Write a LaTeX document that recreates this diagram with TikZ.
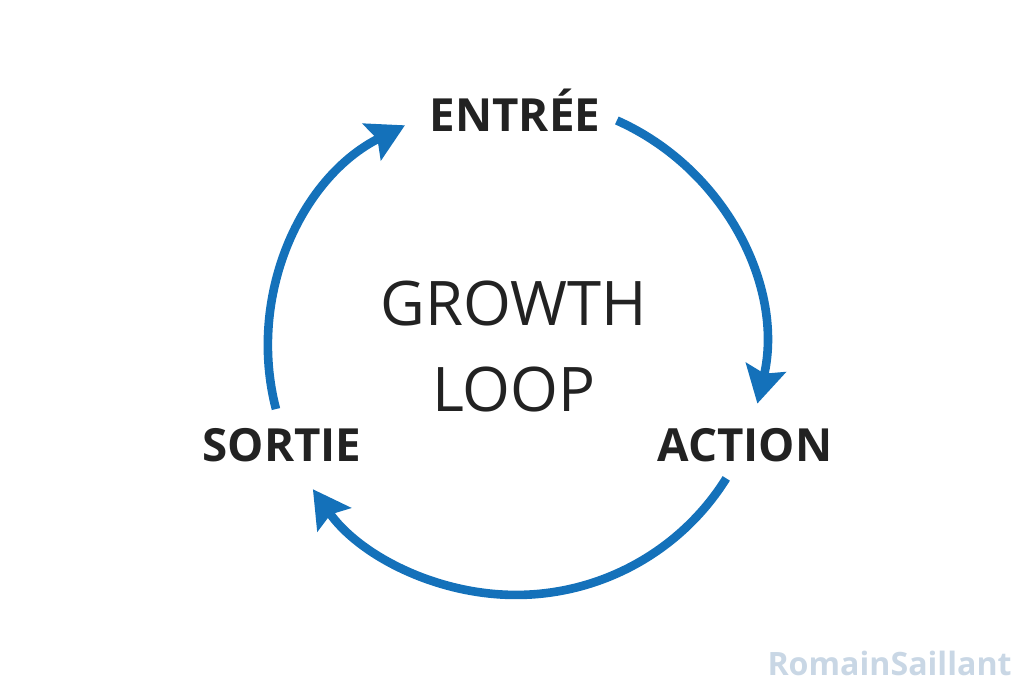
\documentclass[tikz,border=0pt]{standalone}
\usepackage{fontspec}
\setmainfont{Open Sans}
\usepackage{xcolor}
\usetikzlibrary{arrows.meta,positioning}
\definecolor{ink}{HTML}{222222}
\definecolor{loopblue}{HTML}{1471BA}
\definecolor{creditgray}{HTML}{C9D7E5}

\begin{document}
\begin{tikzpicture}[x=0.02cm,y=0.02cm,line cap=butt,
  cyc/.style={line width=4.9pt,loopblue,-{Stealth[length=21pt,width=23pt,inset=3.5pt]}},
  lbl/.style={anchor=base,font=\fontsize{26}{30}\selectfont\bfseries,ink,inner sep=0pt}]
  \useasboundingbox (-516,-348) rectangle (516,347);
  \def\rad{4.96cm}
  % cycle arcs
  \draw[cyc] (66:\rad) arc[start angle=66,end angle=-13.2,radius=\rad];
  \draw[cyc] (-32:\rad) arc[start angle=-32,end angle=-145,radius=\rad];
  \draw[cyc] (194.5:\rad) arc[start angle=194.5,end angle=116.6,radius=\rad];
  % labels
  \node[lbl] (entree) at (-1,215) {ENTRÉE};
  \node[lbl] (action) at (229,-115) {ACTION};
  \node[lbl] (sortie) at (-234,-115) {SORTIE};
  \node[anchor=base,font=\fontsize{35}{40}\selectfont,ink,inner sep=0pt] (growth) at (-2,21) {GROWTH};
  \node[anchor=base,font=\fontsize{35}{40}\selectfont,ink,inner sep=0pt] (loop) at (-2,-65) {LOOP};
  \node[anchor=base east,font=\fontsize{18.3}{22}\selectfont\bfseries,creditgray,inner sep=0pt] (credit) at (496,-329) {RomainSaillant};
\end{tikzpicture}
\end{document}
